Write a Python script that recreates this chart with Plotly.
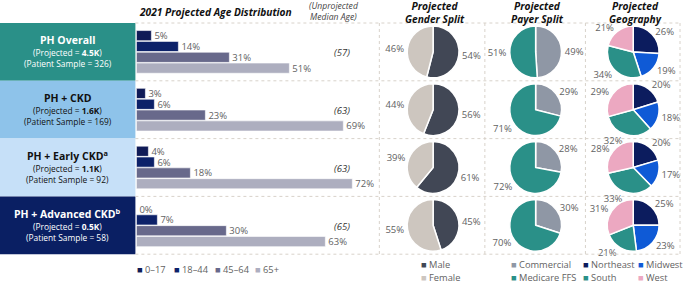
import plotly.graph_objects as go

# ---- data ----
groups = ["PH Overall", "PH + CKD", "PH + Early CKD", "PH + Advanced CKD"]
group_titles = ["PH Overall", "PH + CKD", "PH + Early CKD<sup>a</sup>", "PH + Advanced CKD<sup>b</sup>"]
projected = ["4.5K", "1.6K", "1.1K", "0.5K"]
patient_sample = [326, 169, 92, 58]

age_labels = ["0–17", "18–44", "45–64", "65+"]
age_0_17 = [5, 3, 4, 0]
age_18_44 = [14, 6, 6, 7]
age_45_64 = [31, 23, 18, 30]
age_65_plus = [51, 69, 72, 63]
median_age = [57, 63, 63, 65]

gender_labels = ["Male", "Female"]
male = [54, 56, 61, 45]
female = [46, 44, 39, 55]

payer_labels = ["Commercial", "Medicare FFS"]
commercial = [49, 29, 28, 30]
medicare_ffs = [51, 71, 72, 70]

geo_labels = ["Northeast", "Midwest", "South", "West"]
northeast = [26, 20, 20, 25]
midwest = [19, 18, 17, 23]
south = [34, 32, 33, 21]
west = [21, 29, 28, 31]

# ---- styling ----
W, H = 685, 284
FONT = "Open Sans, Noto Sans, sans-serif"
TXT = "#626262"
age_colors = ["#101b57", "#0c2169", "#68698b", "#adaebf"]
gender_colors = ["#414755", "#cdc6bf"]
payer_colors = ["#8f97a5", "#2a9088"]
geo_colors = ["#0c1c5e", "#0f5ad6", "#2a9088", "#eca8c1"]
box_colors = ["#2a9088", "#8ec3ea", "#c6e0f8", "#0a1f63"]
box_text = ["white", "#111111", "#111111", "white"]

ROW_TOP = 23
ROW_H = 57.8
BOX_W = 136
col_x = [381, 487, 588, 683]
pie_cx = [435, 538, 636]
R = 26


def px(x):
    return x / W


def py(y):
    return 1 - y / H


fig = go.Figure()

# age distribution bars
age_series = [age_0_17, age_18_44, age_45_64, age_65_plus]
for name, vals, col in zip(age_labels, age_series, age_colors):
    fig.add_trace(go.Bar(
        name=name, y=groups, x=vals, orientation="h",
        marker=dict(color=col, line=dict(color="white", width=0.6)),
        text=[f"{v}%" for v in vals], textposition="outside", constraintext="none",
        textfont=dict(size=9.5, color=TXT, family=FONT),
        cliponaxis=False, showlegend=False, hoverinfo="skip"))

# pies
pie_sets = [
    (gender_labels, [male, female], gender_colors),
    (payer_labels, [commercial, medicare_ffs], payer_colors),
    (geo_labels, [northeast, midwest, south, west], geo_colors),
]
for c, (labels, series, colors) in enumerate(pie_sets):
    for r in range(len(groups)):
        cy = ROW_TOP + ROW_H * r + ROW_H / 2
        fig.add_trace(go.Pie(
            labels=labels, values=[s[r] for s in series], sort=False,
            direction="clockwise", rotation=0,
            marker=dict(colors=colors, line=dict(color="white", width=1.5)),
            texttemplate="%{value}%", textposition="outside",
            textfont=dict(size=9.5, color=TXT, family=FONT),
            domain=dict(x=[px(pie_cx[c] - R), px(pie_cx[c] + R)],
                        y=[py(cy + R), py(cy - R)]),
            showlegend=False, hoverinfo="skip"))

shapes = []
annotations = []


def note(x, y, text, font, xanchor="center"):
    annotations.append(dict(x=px(x), y=py(y), xref="paper", yref="paper", text=text,
                            showarrow=False, xanchor=xanchor, yanchor="middle",
                            borderpad=0, font=font))


# left boxes and row texts
for r in range(len(groups)):
    top = ROW_TOP + ROW_H * r
    shapes.append(dict(type="rect", xref="paper", yref="paper",
                       x0=0, x1=px(BOX_W), y0=py(top + ROW_H), y1=py(top),
                       fillcolor=box_colors[r], line=dict(width=0), layer="below"))
    note(BOX_W / 2, top + 17, f"<b>{group_titles[r]}</b>",
         dict(size=10.5, color=box_text[r], family=FONT))
    note(BOX_W / 2, top + 29.8, f"(Projected = <b>{projected[r]}</b>)",
         dict(size=8.4, color=box_text[r], family=FONT))
    note(BOX_W / 2, top + 40.8, f"(Patient Sample = {patient_sample[r]})",
         dict(size=8.4, color=box_text[r], family=FONT))
    note(353, top + 30, f"<i>({median_age[r]})</i>",
         dict(size=9.5, color="#333333", family=FONT), xanchor="right")

# dotted grid
for r in range(len(groups) + 1):
    yy = py(ROW_TOP + ROW_H * r)
    shapes.append(dict(type="line", xref="paper", yref="paper", x0=px(BOX_W), x1=px(684),
                       y0=yy, y1=yy, line=dict(color="#d8d2ca", width=1, dash="dot")))
for xx in col_x:
    shapes.append(dict(type="line", xref="paper", yref="paper", x0=px(xx), x1=px(xx),
                       y0=py(ROW_TOP), y1=py(ROW_TOP + ROW_H * 4),
                       line=dict(color="#d8d2ca", width=1, dash="dot")))

# headers
hdr = dict(size=10.2, color="#111111", family=FONT)
note(216, 12, "<b><i>2021 Projected Age Distribution</i></b>", hdr)
note(335, 12, "<i>(Unprojected<br>Median Age)</i>", dict(size=8.6, color="#444444", family=FONT))
for cx, t in zip(pie_cx, ["Projected<br>Gender Split", "Projected<br>Payer Split",
                          "Projected<br>Geography"]):
    note(cx + 2, 12.5, f"<b><i>{t}</i></b>", hdr)

# legends
leg = dict(size=9.3, color=TXT, family=FONT)


def legend_item(x, y, label, color):
    note(x, y, f"<span style='color:{color}'>■</span> {label}", leg, xanchor="left")


for x, lab, col in zip([137, 174, 215, 255], age_labels, age_colors):
    legend_item(x, 269, lab, col)
for y, lab, col in zip([264.5, 277.3], gender_labels, gender_colors):
    legend_item(422, y, lab, col)
for y, lab, col in zip([264.5, 277.3], payer_labels, payer_colors):
    legend_item(512, y, lab, col)
for (x, y), lab, col in zip([(585, 264.5), (640, 264.5), (585, 277.3), (640, 277.3)],
                            geo_labels, geo_colors):
    legend_item(x, y, lab, col)

fig.update_layout(
    width=W, height=H, margin=dict(l=0, r=0, t=0, b=0),
    paper_bgcolor="white", plot_bgcolor="rgba(0,0,0,0)",
    font=dict(family=FONT, color=TXT),
    barmode="group", bargap=0.25, bargroupgap=0.06,
    xaxis=dict(domain=[px(BOX_W + 1), px(381)], range=[0, 81], visible=False, fixedrange=True),
    yaxis=dict(domain=[py(ROW_TOP + ROW_H * 4), py(ROW_TOP)], autorange="reversed",
               visible=False, fixedrange=True),
    shapes=shapes, annotations=annotations,
)

fig.write_html("out.html", config={"displayModeBar": False},
               post_script="document.body.style.margin='0';")
